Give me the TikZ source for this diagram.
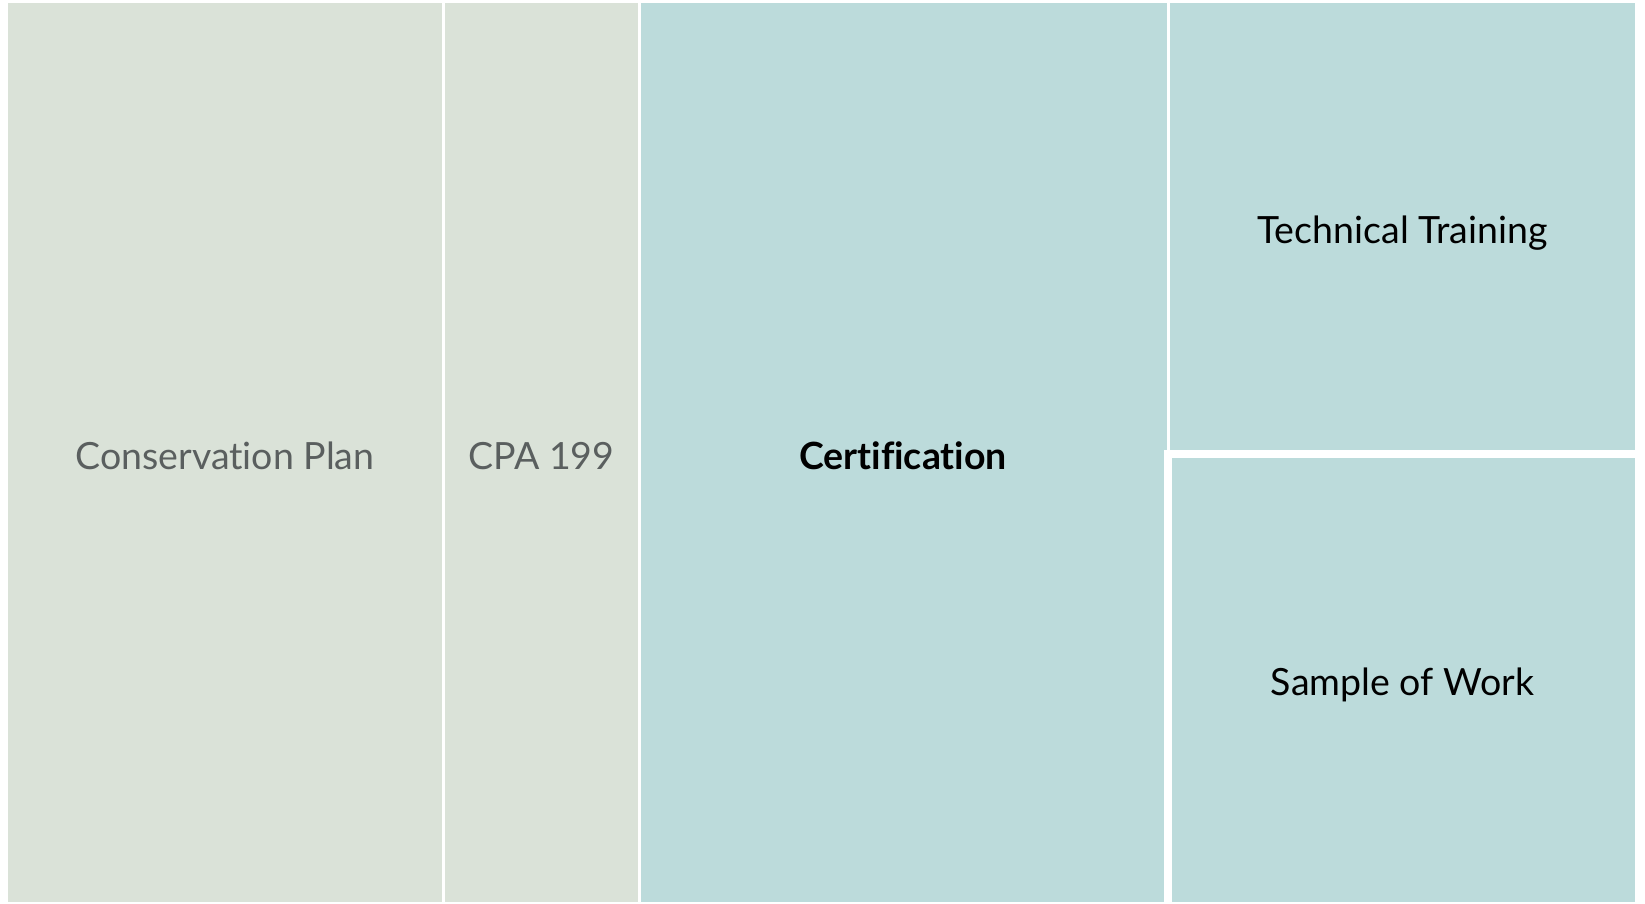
\documentclass[tikz,border=0pt]{standalone}
\usepackage{fontspec}
\setmainfont{Lato}[Ligatures=NoCommon]
\usepackage{xcolor}
\usepackage{tikz}
\definecolor{planSage}{HTML}{DAE2D8}
\definecolor{certTeal}{HTML}{BCDBDB}
\definecolor{planGrey}{HTML}{5A5F5F}

\tikzset{
  tilelabel/.style={inner sep=0pt, font=\fontsize{37.5}{45}\selectfont},
  fadedlabel/.style={tilelabel, text=planGrey},
  mainlabel/.style={tilelabel, text=black}
}

\begin{document}
\begin{tikzpicture}[x=1pt, y=-1pt]
  \useasboundingbox[fill=white] (0,0) rectangle (1645,903);

  % left group
  \fill[planSage] (8,3) rectangle (442.3,902);
  \fill[planSage] (445,3) rectangle (638,902);

  % right group
  \fill[certTeal] (640.7,3) rectangle (1167,902);
  \fill[certTeal] (1169.7,3) rectangle (1635,450);
  \draw[fill=certTeal, draw=white, line width=8pt] (1168,454) rectangle (1639,906);

  \node[fadedlabel] (plan) at (225,456) {Conservation Plan};
  \node[fadedlabel] (cpa) at (541.5,456) {CPA 199};
  \node[mainlabel, font=\fontsize{37.5}{45}\selectfont\bfseries] (cert) at (903,456) {Certification};
  \node[mainlabel] (training) at (1402.5,233) {Technical Training};
  \node[mainlabel] (sample) at (1402.5,685) {Sample of Work};
\end{tikzpicture}
\end{document}
